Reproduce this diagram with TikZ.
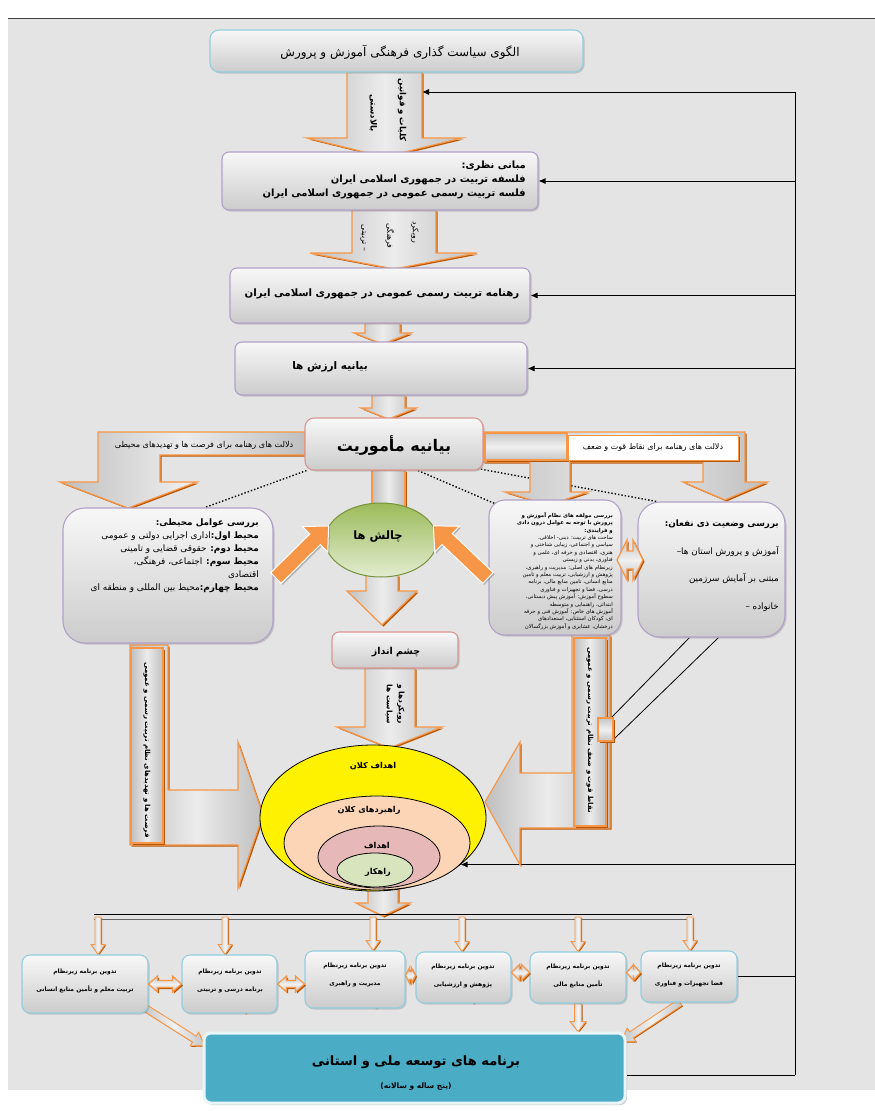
\documentclass[tikz,border=0pt]{standalone}
\usepackage{fontspec}
\usetikzlibrary{calc,shadows,shapes.geometric,arrows.meta}
\newfontfamily\fa[Script=Arabic]{DejaVu Sans}
\TeXXeTstate=1
\newcommand\rl[1]{\beginR #1\endR}
\newcommand\fsz[2]{\fontsize{#1}{#2}\selectfont}
\definecolor{bgc}{HTML}{E4E4E4}
\definecolor{lav}{HTML}{B2A1C7}
\definecolor{lblue}{HTML}{93CDDD}
\definecolor{pinkb}{HTML}{D99694}
\definecolor{orng}{HTML}{F79646}
\definecolor{orngd}{HTML}{B65708}
\definecolor{tealc}{HTML}{4BACC6}
\definecolor{grnb}{HTML}{77933C}
\definecolor{grnt}{HTML}{9BBB59}
\definecolor{grnl}{HTML}{D7E4BD}
\definecolor{peach}{HTML}{FBD5B5}
\definecolor{pinkf}{HTML}{E6B9B8}
\pgfdeclarelayer{bglayer}
\pgfdeclarelayer{backlayer}
\pgfsetlayers{bglayer,backlayer,main}
\tikzset{
  box/.style={rectangle, rounded corners=7pt, top color=gray!6, bottom color=gray!40, line width=1.1pt, drop shadow={shadow xshift=1.5pt,shadow yshift=-1.5pt,opacity=0.35}, inner sep=0pt},
  bigbox/.style={box, rounded corners=22pt},
  barr/.style={left color=gray!50, right color=gray!50, middle color=gray!15, draw=orng, line width=1.2pt, drop shadow={shadow xshift=1.5pt,shadow yshift=-1.5pt,fill=orngd,opacity=1}},
  harr/.style={top color=gray!45, bottom color=gray!45, middle color=gray!12, draw=orng, line width=1.2pt, drop shadow={shadow xshift=1.5pt,shadow yshift=-1.5pt,fill=orngd,opacity=1}},
  oarr/.style={fill=orng, draw=white, line width=1pt, drop shadow={shadow xshift=1.5pt,shadow yshift=-1.5pt,opacity=0.5}},
  tarr/.style={left color=gray!45, right color=gray!45, middle color=gray!10, draw=orng, line width=0.9pt, drop shadow={shadow xshift=1pt,shadow yshift=-1pt,fill=orngd,opacity=1}},
  conn/.style={draw=black, line width=0.8pt},
  conna/.style={conn, -{Latex[length=7pt,width=6pt]}},
  txt/.style={inner sep=0pt, align=center},
  dots/.style={draw=black, line width=1.4pt, dotted}
}
% block arrow: tail, tip, shaft half width, head half width, head length, style
\newcommand\blkarrow[6]{%
  \coordinate (ba-T) at #1; \coordinate (ba-H) at #2;
  \coordinate (ba-N) at ($(ba-H)!#5!(ba-T)$);
  \path[#6] ($(ba-T)!#3!90:(ba-H)$) -- ($(ba-N)!#3!90:(ba-H)$) -- ($(ba-N)!#4!90:(ba-H)$) -- (ba-H) -- ($(ba-N)!#4!-90:(ba-H)$) -- ($(ba-N)!#3!-90:(ba-H)$) -- ($(ba-T)!#3!-90:(ba-H)$) -- cycle;}
% double arrow: A, B, shaft half, head half, head length, style
\newcommand\dblarrow[6]{%
  \coordinate (da-A) at #1; \coordinate (da-B) at #2;
  \coordinate (da-M) at ($(da-A)!#5!(da-B)$);
  \coordinate (da-P) at ($(da-B)!#5!(da-A)$);
  \path[#6] (da-A) -- ($(da-M)!#4!90:(da-B)$) -- ($(da-M)!#3!90:(da-B)$) -- ($(da-P)!#3!-90:(da-A)$) -- ($(da-P)!#4!-90:(da-A)$) -- (da-B) -- ($(da-P)!#4!90:(da-A)$) -- ($(da-P)!#3!90:(da-A)$) -- ($(da-M)!#3!-90:(da-B)$) -- ($(da-M)!#4!-90:(da-B)$) -- cycle;}
\begin{document}
\begin{tikzpicture}[x=1pt,y=-1pt]
\useasboundingbox (0,0) rectangle (875,1111);
\begin{pgfonlayer}{bglayer}
\fill[bgc] (8,18) rectangle (875,1090);
\draw[black!75, line width=0.8pt] (8,18) -- (875,18);
\end{pgfonlayer}

% ---------- boxes ----------
\node[box, draw=lblue, rounded corners=9pt, minimum width=373pt, minimum height=42pt] (title) at (396.5,51) {};
\node[box, draw=lav, minimum width=316pt, minimum height=58pt] (mabani) at (380,181) {};
\node[box, draw=lav, minimum width=300pt, minimum height=55pt] (rahname) at (380,295.5) {};
\node[box, draw=lav, minimum width=292pt, minimum height=53pt] (arzesh) at (381,368.5) {};
\node[box, draw=pinkb, rounded corners=9pt, minimum width=178pt, minimum height=52pt] (mission) at (394,444) {};
\node[bigbox, draw=lav, minimum width=210pt, minimum height=135pt] (leftbox) at (168,575.5) {};
\node[bigbox, draw=lav, rounded corners=16pt, minimum width=132pt, minimum height=135pt] (midbox) at (555,567.5) {};
\node[bigbox, draw=lav, minimum width=147pt, minimum height=135pt] (rightbox) at (711.5,569.5) {};
\node[ellipse, draw=grnb, line width=1pt, top color=grnt, bottom color=grnl!70!white, minimum width=112pt, minimum height=74pt, inner sep=0pt] (chalesh) at (381,540) {};
\node[box, draw=pinkb, minimum width=126pt, minimum height=36pt] (vision) at (395,650) {};
\node[ellipse, draw=black, line width=0.8pt, fill=yellow, minimum width=226pt, minimum height=146pt, inner sep=0pt] (E1) at (373,818) {};
\node[ellipse, draw=black, line width=0.8pt, fill=peach, minimum width=186pt, minimum height=94pt, inner sep=0pt] (E2) at (377,843) {};
\node[ellipse, draw=black, line width=0.8pt, fill=pinkf, minimum width=122pt, minimum height=62pt, inner sep=0pt] (E3) at (379,857) {};
\node[ellipse, draw=black, line width=0.8pt, fill=grnl, minimum width=76pt, minimum height=34pt, inner sep=0pt] (E4) at (375,870) {};
\node[box, draw=lblue, rounded corners=8pt, minimum width=126pt, minimum height=58pt] (B1) at (85,984) {};
\node[box, draw=lblue, rounded corners=8pt, minimum width=95pt, minimum height=58pt] (B2) at (229.5,984) {};
\node[box, draw=lblue, rounded corners=8pt, minimum width=100pt, minimum height=57pt] (B3) at (355,979.5) {};
\node[box, draw=lblue, rounded corners=8pt, minimum width=95pt, minimum height=51pt] (B4) at (463.5,977.5) {};
\node[box, draw=lblue, rounded corners=8pt, minimum width=96pt, minimum height=51pt] (B5) at (578,977.5) {};
\node[box, draw=lblue, rounded corners=8pt, minimum width=96pt, minimum height=51pt] (B6) at (689,976.5) {};
\node[rectangle, rounded corners=7pt, fill=tealc, draw=white!80!lblue, line width=3pt, minimum width=421pt, minimum height=70pt, drop shadow={shadow xshift=2pt,shadow yshift=-2pt,opacity=0.4}] (bot) at (414.5,1068) {};

% ---------- back layer: arrows and lines ----------
\begin{pgfonlayer}{backlayer}
\coordinate (R1) at (795,92);
\coordinate (R2) at (795,1075);
\coordinate (a1e) at (422,92);
\draw[conn] (R1) -- (R2);
\draw[conna] (R1) -- (a1e);
\draw[conna] (mabani.east -| R1) -- (mabani.east);
\draw[conna] (rahname.east -| R1) -- (rahname.east);
\draw[conna] (arzesh.east -| R1) -- (arzesh.east);
\draw[conna] (E1.-28.5 -| R1) -- (E1.-28.5);
\draw[conn] (B6.east) -- (B6.east -| R1);
\draw[conn] (bot.east |- R2) -- (R2);
% dotted links
\draw[dots] ($(mission.south west)+(2,0)$) -- ($(leftbox.north)+(37,0)$);
\draw[dots] ($(mission.south)+(24,0)$) -- ($(midbox.north west)+(13,7)$);
\draw[dots] ($(mission.south east)+(-6,-2)$) -- ($(rightbox.north west)+(19,0)$);
% vertical chain
\path[barr] (347,72) -- (422,72) -- (422,138) -- (462,138) -- (384.5,157) -- (307,138) -- (347,138) -- cycle;
\path[barr] (352,210) -- (436,210) -- (436,253) -- (477,253) -- (394,269) -- (310,253) -- (352,253) -- cycle;
\path[barr] (365,323) -- (400,323) -- (400,333) -- (411,333) -- (382.5,344) -- (354,333) -- (365,333) -- cycle;
\path[barr] (372,395) -- (405,395) -- (405,408) -- (416,408) -- (388.5,419) -- (361,408) -- (372,408) -- cycle;
\path[barr] (372,470) rectangle (405,512);
\path[barr] (366,575) -- (398,575) -- (398,591) -- (417,591) -- (382,625) -- (347,591) -- (366,591) -- cycle;
\path[barr] (365,668) -- (415,668) -- (415,727) -- (442,727) -- (389.5,748) -- (337,727) -- (365,727) -- cycle;
% L arrows from mission
\path[barr] (305,432) -- (98,432) -- (98,482) -- (60,482) -- (128,508) -- (197,482) -- (160,482) -- (160,455) -- (305,455) -- cycle;
\path[barr] (483,432) -- (745,432) -- (745,482) -- (767,482) -- (725,500) -- (683,482) -- (703,482) -- (703,462) -- (570,462) -- (570,492) -- (588,492) -- (548,505) -- (505,492) -- (530,492) -- (530,462) -- (483,462) -- cycle;
% big side arrows into ellipse
\path[barr] (130,645) -- (168,645) -- (168,790) -- (238,790) -- (238,742) -- (263,815) -- (238,888) -- (238,845) -- (130,845) -- cycle;
\path[barr] (131,648) rectangle (163,843);
\path[barr] (610,635) -- (572,635) -- (572,773) -- (520,773) -- (520,742) -- (485,802) -- (520,865) -- (520,828) -- (610,828) -- cycle;
\path[barr] (574,638) rectangle (606,826);
% ellipse to distribution
\path[barr] (368,888) -- (398,888) -- (398,903) -- (410,903) -- (383,916) -- (356,903) -- (368,903) -- cycle;
\coordinate (dL) at (94,914);
\coordinate (dR) at (692,914);
\draw[conn] (dL) -- (dR);
\draw[conn, black!60] ($(dL)+(0,5)$) -- ($(dR)+(0,5)$);
\foreach \x/\b in {98/B1,225/B2,373/B3,462/B4,578/B5,690/B6}{%
  \coordinate (tt) at (\x,917);
  \blkarrow{(tt)}{(tt |- \b.north)}{3pt}{7pt}{10pt}{tarr}}
% into bottom box
\blkarrow{($(B1.south east)+(-4,-6)$)}{($(bot.north west)+(2,14)$)}{3.5pt}{8pt}{12pt}{tarr}
\blkarrow{($(B2.south)+(16,0)$)}{($(B2.south)+(16,0)$ |- bot.north)}{3.5pt}{8pt}{10pt}{tarr}
\blkarrow{($(B3.south)+(21,0)$)}{($(B3.south)+(21,0)$ |- bot.north)}{3.5pt}{8pt}{10pt}{tarr}
\blkarrow{($(B4.south)+(10,0)$)}{($(B4.south)+(10,0)$ |- bot.north)}{3.5pt}{8pt}{10pt}{tarr}
\blkarrow{(B5.south)}{(B5.south |- bot.north)}{3.5pt}{8pt}{10pt}{tarr}
\blkarrow{($(B6.south)+(-9,0)$)}{($(bot.north east)+(-5,10)$)}{3.5pt}{8pt}{12pt}{tarr}
% callout square lines
\draw[conn] (611,718) -- ($(rightbox.south)+(-22,0)$);
\draw[conn] (613,740) -- ($(rightbox.south)+(7,0)$);
\end{pgfonlayer}

% ---------- front shapes ----------
\node[harr, rectangle, minimum width=15pt, minimum height=23pt, inner sep=0pt] (sq) at (605.5,729.5) {};
\node[harr, rectangle, minimum width=82pt, minimum height=27pt, inner sep=0pt] (rpanel) at (526,446.5) {};
\node[rectangle, fill=white, draw=orng, line width=1pt, minimum width=170pt, minimum height=25pt, inner sep=0pt, font=\fa\fsz{8}{9}, drop shadow={shadow xshift=1.5pt,shadow yshift=-1.5pt,fill=orngd,opacity=1}] (rlab) at (653,447.5) {\rl{دلالت های رهنامه برای نقاط قوت و ضعف}};
\dblarrow{(617,560)}{(643,560)}{9pt}{20pt}{10pt}{harr}
\dblarrow{(B1.east)}{(B2.west)}{3.5pt}{8pt}{9pt}{harr}
\dblarrow{(B2.east)}{(B3.west |- B2.east)}{3.5pt}{8pt}{9pt}{harr}
\dblarrow{($(B3.east)+(0,-4)$)}{($(B4.west)+(0,-2)$)}{4pt}{8pt}{4pt}{harr}
\dblarrow{($(B4.east)+(0,-5)$)}{($(B5.west)+(0,-5)$)}{3.5pt}{8pt}{8pt}{harr}
\dblarrow{($(B5.east)+(0,-5)$)}{($(B6.west)+(0,-4)$)}{3.5pt}{8pt}{7pt}{harr}
\blkarrow{(276,578)}{(chalesh.165)}{7.5pt}{18pt}{19pt}{oarr}
\blkarrow{(488,578)}{(chalesh.15)}{7.5pt}{18pt}{19pt}{oarr}

% ---------- texts ----------
\node[txt, font=\fa\fsz{12}{14}] (tT) at (400,52) {\rl{الگوی سیاست گذاری فرهنگی آموزش و پرورش}};
\node[txt, font=\fa\bfseries\fsz{8.5}{10}, rotate=-90] (a1t1) at (402,110) {\rl{کلیات و قوانین}};
\node[txt, font=\fa\bfseries\fsz{8.5}{10}, rotate=-90] (a1t2) at (373,113) {\rl{بالادستی}};
\node[txt, font=\fa\bfseries\fsz{10}{14}, align=right, anchor=east] (mT) at (526,180) {\rl{مبانی نظری:}\\\rl{فلسفه تربیت در جمهوری اسلامی ایران}\\\rl{فلسه تربیت رسمی عمومی در جمهوری اسلامی ایران}};
\node[txt, font=\fa\fsz{7.8}{9}, rotate=-90] (a2t1) at (415,232) {\rl{رویکرد}};
\node[txt, font=\fa\fsz{7.8}{9}, rotate=-90] (a2t2) at (390,236) {\rl{فرهنگی}};
\node[txt, font=\fa\fsz{7.8}{9}, rotate=-90] (a2t3) at (363,238) {\rl{– تربیتی}};
\node[txt, font=\fa\bfseries\fsz{10.2}{12}] (rT) at (382,294) {\rl{رهنامه تربیت رسمی عمومی در جمهوری اسلامی ایران}};
\node[txt, font=\fa\bfseries\fsz{10.5}{12}] (aT) at (330,367) {\rl{بیانیه ارزش ها}};
\node[txt, font=\fa\bfseries\fsz{16}{18}] (msT) at (394,446) {\rl{بیانیه مأموریت}};
\node[txt, font=\fa\fsz{8.1}{9}] (lbandT) at (204,445) {\rl{دلالت های رهنامه برای فرصت ها و تهدیدهای محیطی}};
\node[txt, font=\fa\fsz{8.9}{13}, align=right, anchor=north east] (lbT) at (259,519) {%
\rl{\bfseries بررسی عوامل محیطی:}\\
\rl{{\bfseries محیط اول:}اداری اجرایی دولتی و عمومی}\\
\rl{{\bfseries محیط دوم:} حقوقی قضایی و تامینی}\\
\rl{{\bfseries محیط سوم:} اجتماعی، فرهنگی،}\\
\rl{اقتصادی}\\
\rl{{\bfseries محیط چهارم:}محیط بین المللی و منطقه ای}};
\node[txt, font=\fa\fsz{5.4}{7.4}, align=right, anchor=north east] (mbT) at (613,512) {%
\rl{\bfseries بررسی مولفه های نظام آموزش و}\\
\rl{\bfseries پرورش با توجه به عوامل درون دادی}\\
\rl{\bfseries و فرایندی:}\\
\rl{ساحت های تربیت: دینی- اخلاقی،}\\
\rl{سیاسی و اجتماعی، زیبایی شناختی و}\\
\rl{هنری، اقتصادی و حرفه ای، علمی و}\\
\rl{فناوری، بدنی و زیستی}\\
\rl{زیرنظام های اصلی: مدیریت و راهبری،}\\
\rl{پژوهش و ارزشیابی، تربیت معلم و تامین}\\
\rl{منابع انسانی، تامین منابع مالی، برنامه}\\
\rl{درسی، فضا و تجهیزات و فناوری}\\
\rl{سطوح آموزش: آموزش پیش دبستانی،}\\
\rl{ابتدائی، راهنمایی و متوسطه}\\
\rl{آموزش های خاص: آموزش فنی و حرفه}\\
\rl{ای، کودکان استثنایی، استعدادهای}\\
\rl{درخشان، عشایری و آموزش بزرگسالان}};
\node[txt, font=\fa\fsz{8.8}{27.5}, align=right, anchor=north east] (rbT) at (779,520) {%
\rl{\bfseries بررسی وضعیت ذی نفعان:}\\
\rl{آموزش و پرورش استان ها–}\\
\rl{مبتنی بر آمایش سرزمین}\\
\rl{خانواده –}};
\node[txt, font=\fa\bfseries\fsz{11.5}{13}] (chT) at (378,537) {\rl{چالش ها}};
\node[txt, font=\fa\bfseries\fsz{9.5}{11}] (vT) at (396,652) {\rl{چشم انداز}};
\node[txt, font=\fa\bfseries\fsz{7.5}{12}, rotate=-90] (a5T) at (395,704) {\rl{رویکردها و}\\\rl{سیاست ها}};
\node[txt, font=\fa\bfseries\fsz{7}{8}, rotate=-90] (lbig) at (147,750) {\rl{فرصت ها و تهدیدهای نظام تربیت رسمی و عمومی}};
\node[txt, font=\fa\bfseries\fsz{7}{8}, rotate=-90] (rbig) at (590,730) {\rl{نقاط قوت و ضعف نظام تربیت رسمی و عمومی}};
\node[txt, font=\fa\bfseries\fsz{8.2}{10}] (e1T) at (373,766) {\rl{اهداف کلان}};
\node[txt, font=\fa\bfseries\fsz{8.2}{10}] (e2T) at (369,810) {\rl{راهبردهای کلان}};
\node[txt, font=\fa\bfseries\fsz{8.2}{10}] (e3T) at (377,846) {\rl{اهداف}};
\node[txt, font=\fa\bfseries\fsz{8.2}{10}] (e4T) at (378,872) {\rl{راهکار}};
\node[txt, font=\fa\bfseries\fsz{6}{18}] (b1T) at (85,981) {\rl{تدوین برنامه زیرنظام}\\\rl{تربیت معلم و تأمین منابع انسانی}};
\node[txt, font=\fa\bfseries\fsz{6}{18}] (b2T) at (230,981) {\rl{تدوین برنامه زیرنظام}\\\rl{برنامه درسی و تربیتی}};
\node[txt, font=\fa\bfseries\fsz{6}{18}] (b3T) at (355,975) {\rl{تدوین برنامه زیرنظام}\\\rl{مدیریت و راهبری}};
\node[txt, font=\fa\bfseries\fsz{6}{18}] (b4T) at (463,976) {\rl{تدوین برنامه زیرنظام}\\\rl{پژوهش و ارزشیابی}};
\node[txt, font=\fa\bfseries\fsz{6}{18}] (b5T) at (578,976) {\rl{تدوین برنامه زیرنظام}\\\rl{تأمین منابع مالی}};
\node[txt, font=\fa\bfseries\fsz{6}{18}] (b6T) at (689,975) {\rl{تدوین برنامه زیرنظام}\\\rl{فضا تجهیزات و فناوری}};
\node[txt, font=\fa\bfseries\fsz{13}{15}] (botT1) at (416,1062) {\rl{برنامه های توسعه ملی و استانی}};
\node[txt, font=\fa\bfseries\fsz{7.5}{9}] (botT2) at (416,1087) {\rl{(پنج ساله و سالانه)}};
\end{tikzpicture}
\end{document}
